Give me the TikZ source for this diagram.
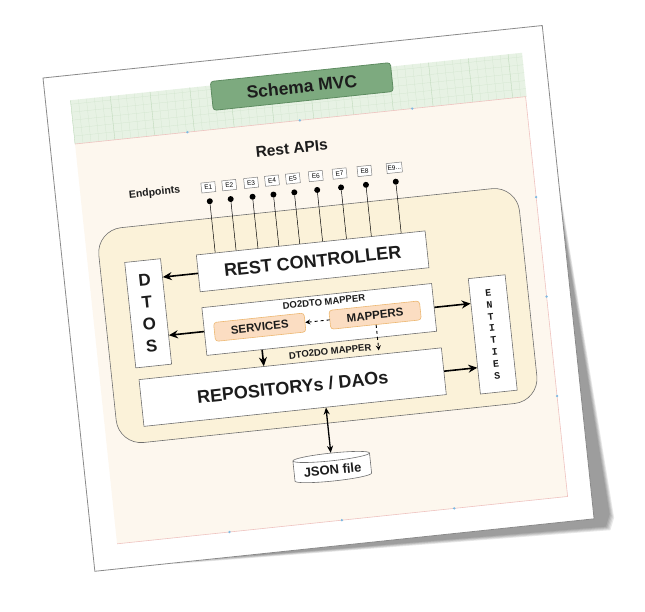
\documentclass[tikz,border=0pt]{standalone}
\usepackage{fontspec}
\setmainfont{Liberation Sans}
\setmonofont{Liberation Mono}
\usetikzlibrary{arrows.meta,calc,shapes.geometric}
\definecolor{paperedge}{HTML}{8A8A8A}
\definecolor{gridband}{HTML}{E7F2E4}
\definecolor{gridline}{HTML}{D2E6CE}
\definecolor{gridmajor}{HTML}{C3DCBF}
\definecolor{pagefill}{HTML}{FDF7EE}
\definecolor{pageline}{HTML}{EFC3C0}
\definecolor{handle}{HTML}{7DB9E2}
\definecolor{schemafill}{HTML}{7DAA7F}
\definecolor{schemaline}{HTML}{5E8C61}
\definecolor{layerfill}{HTML}{FBF2D9}
\definecolor{boxline}{HTML}{6E6E6E}
\definecolor{orangefill}{HTML}{FBDDC2}
\definecolor{orangeline}{HTML}{EDB872}
\definecolor{inktext}{HTML}{1C1C1C}
\newcommand\colorPaperEdge{paperedge}
\newcommand\colorBoxLine{boxline}
\newcommand\colorLayer{layerfill}
\newcommand\colorInk{inktext}
\newcommand\pageW{502}
\newcommand\pageH{496}
\newcommand\pageTilt{6}
\newcommand\fontBig{\fontsize{18}{20}\selectfont\bfseries}
\newcommand\drawGridBand{
	\fill[gridband] (25,25) rectangle (479,69);
	\foreach \gu in {25,33,...,473}{
		\draw[color=gridline, line width=0.25pt] (\gu,25) to (\gu,69);
	}
	\foreach \gv in {29,37,...,69}{
		\draw[color=gridline, line width=0.25pt] (25,\gv) to (479,\gv);
	}
	\foreach \gu in {25,65,...,465}{
		\draw[color=gridmajor, line width=0.35pt] (\gu,25) to (\gu,69);
	}
}
\tikzset{
	box/.style={draw=\colorBoxLine, fill=white, line width=0.6pt, inner sep=0pt, text=\colorInk},
	orangebox/.style={draw=orangeline, fill=orangefill, rounded corners=3pt, line width=0.6pt, inner sep=0pt,
		minimum width=91, minimum height=19, text=\colorInk, font=\fontsize{11.5}{12}\selectfont\bfseries},
	epbox/.style={draw=gray, fill=white, line width=0.5pt, inner sep=1pt, minimum width=14, minimum height=10,
		font=\fontsize{6.5}{7}\selectfont},
	epdot/.style={circle, fill=black, inner sep=0pt, minimum size=6pt},
	flow/.style={-{Stealth[length=9pt,width=8pt]}, line width=1.6pt},
	dashflow/.style={-{Stealth[length=5pt,width=5pt]}, dashed, line width=0.9pt},
	bothflow/.style={{Stealth[length=7pt,width=6pt]}-{Stealth[length=7pt,width=6pt]}, line width=1.3pt},
	mapperlabel/.style={text=\colorInk, font=\fontsize{9.5}{10}\selectfont\bfseries}
}
\begin{document}
\begin{tikzpicture}[x=1pt,y=-1pt]
	\useasboundingbox (0,0) rectangle (645,611);
	\fill[white] (0,0) rectangle (645,611);
	\begin{scope}[shift={(43,78)}, rotate=\pageTilt, transform shape]
	% shadow and sheet
	\foreach \sk in {0,...,4}{
		\fill[black, opacity=0.09] (495,40+8*\sk) -- (522-\sk,497-\sk) -- (517-\sk,509-\sk) -- (80+20*\sk,497) -- cycle;
	}
	\draw[fill=white, draw=\colorPaperEdge, line width=0.8pt] (0,0) rectangle (\pageW,\pageH);
	\drawGridBand
	\fill[pagefill] (25,69) rectangle (478,471);
	\draw[pageline, line width=0.6pt] (25,69) -- (478,69) -- (478,471) -- (25,471);
	\foreach \hu in {138,251,364}{
		\fill[handle] (\hu,69) circle[radius=1.3pt];
		\fill[handle] (\hu,471) circle[radius=1.3pt];
	}
	\foreach \hv in {170,270,370}{
		\fill[handle] (478,\hv) circle[radius=1.3pt];
	}
	
	\node[draw=schemaline, fill=schemafill, rounded corners=3pt, line width=0.8pt, minimum width=181, minimum height=29,
		text=\colorInk, font=\fontsize{17.5}{19}\selectfont\bfseries] (schema) at (256.5,35.5) {Schema MVC};
	\node[text=\colorInk, font=\fontsize{15.5}{17}\selectfont\bfseries] (restapis) at (240,96) {Rest APIs};
	\node[text=\colorInk, font=\fontsize{10.5}{12}\selectfont\bfseries] (endpoints) at (99,126) {Endpoints};
	
	% layer
	\draw[fill=\colorLayer, draw=\colorBoxLine, line width=0.6pt, rounded corners=25pt] (37,157) rectangle (460,373);
	
	\node[box, minimum width=230, minimum height=37, font=\fontBig] (rest) at (249,210.5) {REST CONTROLLER};
	\node[box, minimum width=231, minimum height=48] (mid) at (249.5,269) {};
	\node[box, minimum width=304, minimum height=47, font=\fontBig] (repo) at (216,333.5) {REPOSITORYs / DAOs};
	\node[box, minimum width=36, minimum height=106, align=center, font=\fontsize{17}{22}\selectfont\bfseries] (dtos) at (80,245) {D\\T\\O\\S};
	\node[box, minimum width=37, minimum height=116, align=center, font=\fontsize{10}{12}\selectfont\ttfamily\bfseries] (entities) at (420.5,302) {E\\N\\T\\I\\T\\I\\E\\S};
	\node[orangebox] (services) at (189.5,270.5) {SERVICES};
	\node[orangebox] (mappers) at (305.5,270.5) {MAPPERS};
	\node[mapperlabel] (do2dto) at (256,252) {DO2DTO MAPPER};
	\node[mapperlabel] (dto2do) at (257,302) {DTO2DO MAPPER};
	\node[cylinder, shape border rotate=90, aspect=0.12, draw=\colorBoxLine, fill=white, line width=0.6pt,
		minimum width=77, minimum height=28, text=\colorInk, font=\fontsize{13}{14}\selectfont\bfseries] (json) at (247,420) {JSON file};
	\coordinate (dtodo) at (305.5,306);
	
	% endpoints
	\foreach \eu/\elab [count=\ei] in {153/E1,174/E2,196/E3,217/E4,238/E5,261/E6,285/E7,310/E8,340/E9{.}{.}{.}}{
		\node[epbox] (e\ei) at (\eu,126) {\elab};
		\node[epdot] (d\ei) at (\eu,140) {};
		\draw[line width=0.5pt] (d\ei) -- ($(rest.north west)!(d\ei)!(rest.north east)$);
	}
	
	% connectors
	\draw[flow] (rest.west) -- ($(dtos.north east)!(rest.west)!(dtos.south east)$);
	\draw[flow] (mid.west) -- ($(dtos.north east)!(mid.west)!(dtos.south east)$);
	\draw[flow] (mid.east) -- ($(entities.north west)!(mid.east)!(entities.south west)$);
	\draw[flow] (repo.east) -- ($(entities.north west)!(repo.east)!(entities.south west)$);
	\draw[flow] ($(mid.south west)!(services.south)!(mid.south east)$) -- ($(repo.north west)!(services.south)!(repo.north east)$);
	\draw[dashflow] (mappers.west) -- (services.east);
	\draw[dashflow] (mappers.south) -- (dtodo);
	\draw[bothflow] ($(repo.south west)!(json.north)!(repo.south east)$) -- (json.north);
	\end{scope}
\end{tikzpicture}
\end{document}
